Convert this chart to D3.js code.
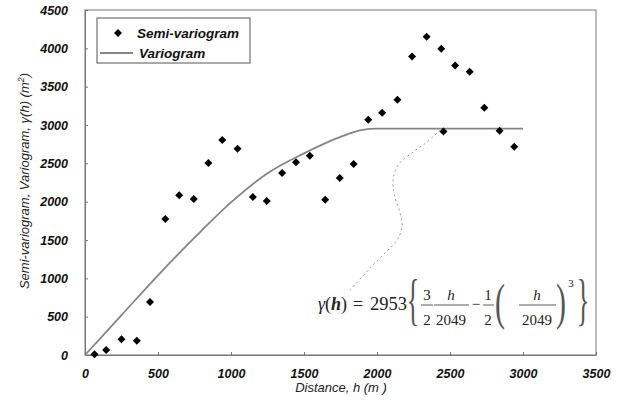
<!DOCTYPE html>
<html>
  <head>
    <script src="https://d3js.org/d3.v7.min.js"></script>
    <style>
      body { margin: 0; background: #fff; }
      text { font-family: "Liberation Sans", Arial, sans-serif; }
      .tick text { font-size: 12.5px; font-weight: bold; font-style: italic; fill: #111; }
      .serif { font-family: "Liberation Serif", "Times New Roman", serif; fill: #222; }
    </style>
  </head>
  <body>
    <script>

    // experimental semi-variogram (distance h in m, gamma in m^2)
    const lagDistance = [65, 145, 250, 355, 445, 550, 645, 745, 845, 940, 1045, 1150, 1245, 1350, 1445,
                         1540, 1645, 1745, 1840, 1940, 2035, 2140, 2240, 2340, 2440, 2455, 2535, 2635,
                         2735, 2840, 2940];
    const semiVariance = [10, 65, 205, 185, 690, 1775, 2085, 2035, 2505, 2805, 2690, 2060, 2010, 2375, 2515,
                          2600, 2025, 2310, 2490, 3070, 3160, 3330, 3895, 4150, 3995, 2915, 3775, 3695,
                          3225, 2925, 2715];

    // fitted variogram
    const modelDistance = [0, 250, 500, 750, 1000, 1250, 1500, 1750, 1900, 2000, 3000];
    const modelValue = [0, 520, 1040, 1530, 1990, 2370, 2630, 2845, 2935, 2953, 2953];

    // dashed pointer from the equation to the curve
    const pointerX = [2432, 2342, 2247, 2144, 2110, 2123, 2158, 2171, 2137, 2055, 1973, 1897, 1815];
    const pointerY = [2934, 2777, 2647, 2477, 2282, 2060, 1851, 1669, 1499, 1330, 1173, 1017, 847];

    const xTicks = [0, 500, 1000, 1500, 2000, 2500, 3000, 3500];
    const yTicks = [0, 500, 1000, 1500, 2000, 2500, 3000, 3500, 4000, 4500];

    const width = 619;
    const height = 410;

    const svg = d3.select("body").append("svg")
        .attr("width", width)
        .attr("height", height);

    const x = d3.scaleLinear().domain([0, 3500]).range([85, 596]);
    const y = d3.scaleLinear().domain([0, 4500]).range([355, 10]);

    // plot frame
    svg.append("rect")
        .attr("x", x(0)).attr("y", y(4500))
        .attr("width", x(3500) - x(0)).attr("height", y(0) - y(4500))
        .attr("fill", "none")
        .attr("stroke", "#777")
        .attr("stroke-width", 1);

    const xAxis = svg.append("g")
        .attr("transform", `translate(0,${y(0)})`)
        .call(d3.axisBottom(x).tickValues(xTicks).tickFormat(d3.format("d")).tickSizeInner(-3).tickSizeOuter(0).tickPadding(14));
    xAxis.select(".domain").attr("stroke", "#777");
    xAxis.selectAll(".tick line").attr("stroke", "#777");

    const yAxis = svg.append("g")
        .attr("transform", `translate(${x(0)},0)`)
        .call(d3.axisLeft(y).tickValues(yTicks).tickFormat(d3.format("d")).tickSizeInner(-3).tickSizeOuter(0).tickPadding(17));
    yAxis.select(".domain").attr("stroke", "#777");
    yAxis.selectAll(".tick line").attr("stroke", "#777");

    // axis titles
    svg.append("text")
        .attr("x", 341).attr("y", 392)
        .attr("text-anchor", "middle")
        .style("font-size", "13px").style("font-style", "italic").style("fill", "#222")
        .text("Distance, h (m )");

    const yTitle = svg.append("text")
        .attr("transform", "translate(29,181) rotate(-90)")
        .attr("text-anchor", "middle")
        .style("font-size", "13px").style("font-style", "italic").style("fill", "#222");
    yTitle.append("tspan").text("Semi-variogram, Variogram,  γ(h)  (m");
    yTitle.append("tspan").attr("dy", -5).style("font-size", "9px").text("2");
    yTitle.append("tspan").attr("dy", 5).text(")");

    // variogram model line
    const modelPoints = modelDistance.map((d, i) => [d, modelValue[i]]);
    svg.append("path")
        .datum(modelPoints)
        .attr("fill", "none")
        .attr("stroke", "#858585")
        .attr("stroke-width", 1.8)
        .attr("d", d3.line().x(d => x(d[0])).y(d => y(d[1])).curve(d3.curveMonotoneX));

    // pointer curve
    const pointerPoints = pointerX.map((d, i) => [d, pointerY[i]]);
    svg.append("path")
        .datum(pointerPoints)
        .attr("fill", "none")
        .attr("stroke", "#999")
        .attr("stroke-width", 1)
        .attr("stroke-dasharray", "2,3")
        .attr("d", d3.line().x(d => x(d[0])).y(d => y(d[1])).curve(d3.curveCatmullRom));

    // semi-variogram points
    const diamond = d3.symbol().type(d3.symbolSquare).size(32);
    svg.append("g")
      .selectAll("path")
      .data(lagDistance.map((d, i) => [d, semiVariance[i]]))
      .enter().append("path")
        .attr("d", diamond)
        .attr("transform", d => `translate(${x(d[0])},${y(d[1])}) rotate(45)`)
        .attr("fill", "#000");

    // legend
    const legend = svg.append("g");
    legend.append("rect")
        .attr("x", 97).attr("y", 18).attr("width", 153).attr("height", 45)
        .attr("fill", "#fff").attr("stroke", "#555").attr("stroke-width", 1);
    legend.append("path")
        .attr("d", diamond)
        .attr("transform", "translate(118,33) rotate(45)")
        .attr("fill", "#000");
    legend.append("text")
        .attr("x", 137).attr("y", 38)
        .style("font-size", "13.5px").style("font-weight", "bold").style("font-style", "italic").style("fill", "#111")
        .text("Semi-variogram");
    legend.append("line")
        .attr("x1", 100).attr("x2", 133).attr("y1", 53).attr("y2", 53)
        .attr("stroke", "#858585").attr("stroke-width", 1.8);
    legend.append("text")
        .attr("x", 139).attr("y", 58)
        .style("font-size", "13.5px").style("font-weight", "bold").style("font-style", "italic").style("fill", "#111")
        .text("Variogram");

    // equation
    const eq = svg.append("g").attr("class", "serif");
    const eqText = (tx, ty, str, size, anchor, italic) => eq.append("text")
        .attr("class", "serif")
        .attr("x", tx).attr("y", ty)
        .attr("text-anchor", anchor || "middle")
        .style("font-size", size + "px")
        .style("font-style", italic ? "italic" : "normal")
        .text(str);
    const bar = (x1, x2, yy) => eq.append("line")
        .attr("x1", x1).attr("x2", x2).attr("y1", yy).attr("y2", yy)
        .attr("stroke", "#333").attr("stroke-width", 0.8);

    const lhs = eq.append("text").attr("class", "serif")
        .attr("x", 318).attr("y", 310).style("font-size", "18px");
    lhs.append("tspan").style("font-style", "italic").text("γ");
    lhs.append("tspan").text("(");
    lhs.append("tspan").style("font-style", "italic").style("font-weight", "bold").text("h");
    lhs.append("tspan").text(")");
    eqText(358, 310, "=", 18);
    eqText(370, 310, "2953", 18.5, "start");

    eq.append("text").attr("class", "serif")
        .attr("transform", "translate(413,319) scale(0.45,1)")
        .attr("text-anchor", "middle").style("font-size", "58px").style("fill", "#555")
        .text("{");
    eq.append("text").attr("class", "serif")
        .attr("transform", "translate(583,319) scale(0.45,1)")
        .attr("text-anchor", "middle").style("font-size", "58px").style("fill", "#555")
        .text("}");

    eqText(427, 300, "3", 15); bar(421, 433, 305); eqText(427, 325, "2", 15);
    eqText(451, 300, "h", 15, "middle", true); bar(434, 469, 305); eqText(451, 325, "2049", 15);
    eqText(476, 309, "−", 15);
    eqText(488, 300, "1", 15); bar(483, 494, 305); eqText(488, 325, "2", 15);

    eq.append("text").attr("class", "serif")
        .attr("transform", "translate(500,319) scale(0.6,1)")
        .attr("text-anchor", "middle").style("font-size", "50px").style("fill", "#555")
        .text("(");
    eqText(537, 300, "h", 15, "middle", true); bar(519, 556, 305); eqText(537, 325, "2049", 15);
    eq.append("text").attr("class", "serif")
        .attr("transform", "translate(561,319) scale(0.6,1)")
        .attr("text-anchor", "middle").style("font-size", "50px").style("fill", "#555")
        .text(")");
    eqText(571, 287, "3", 11);

    </script>
  </body>
</html>
